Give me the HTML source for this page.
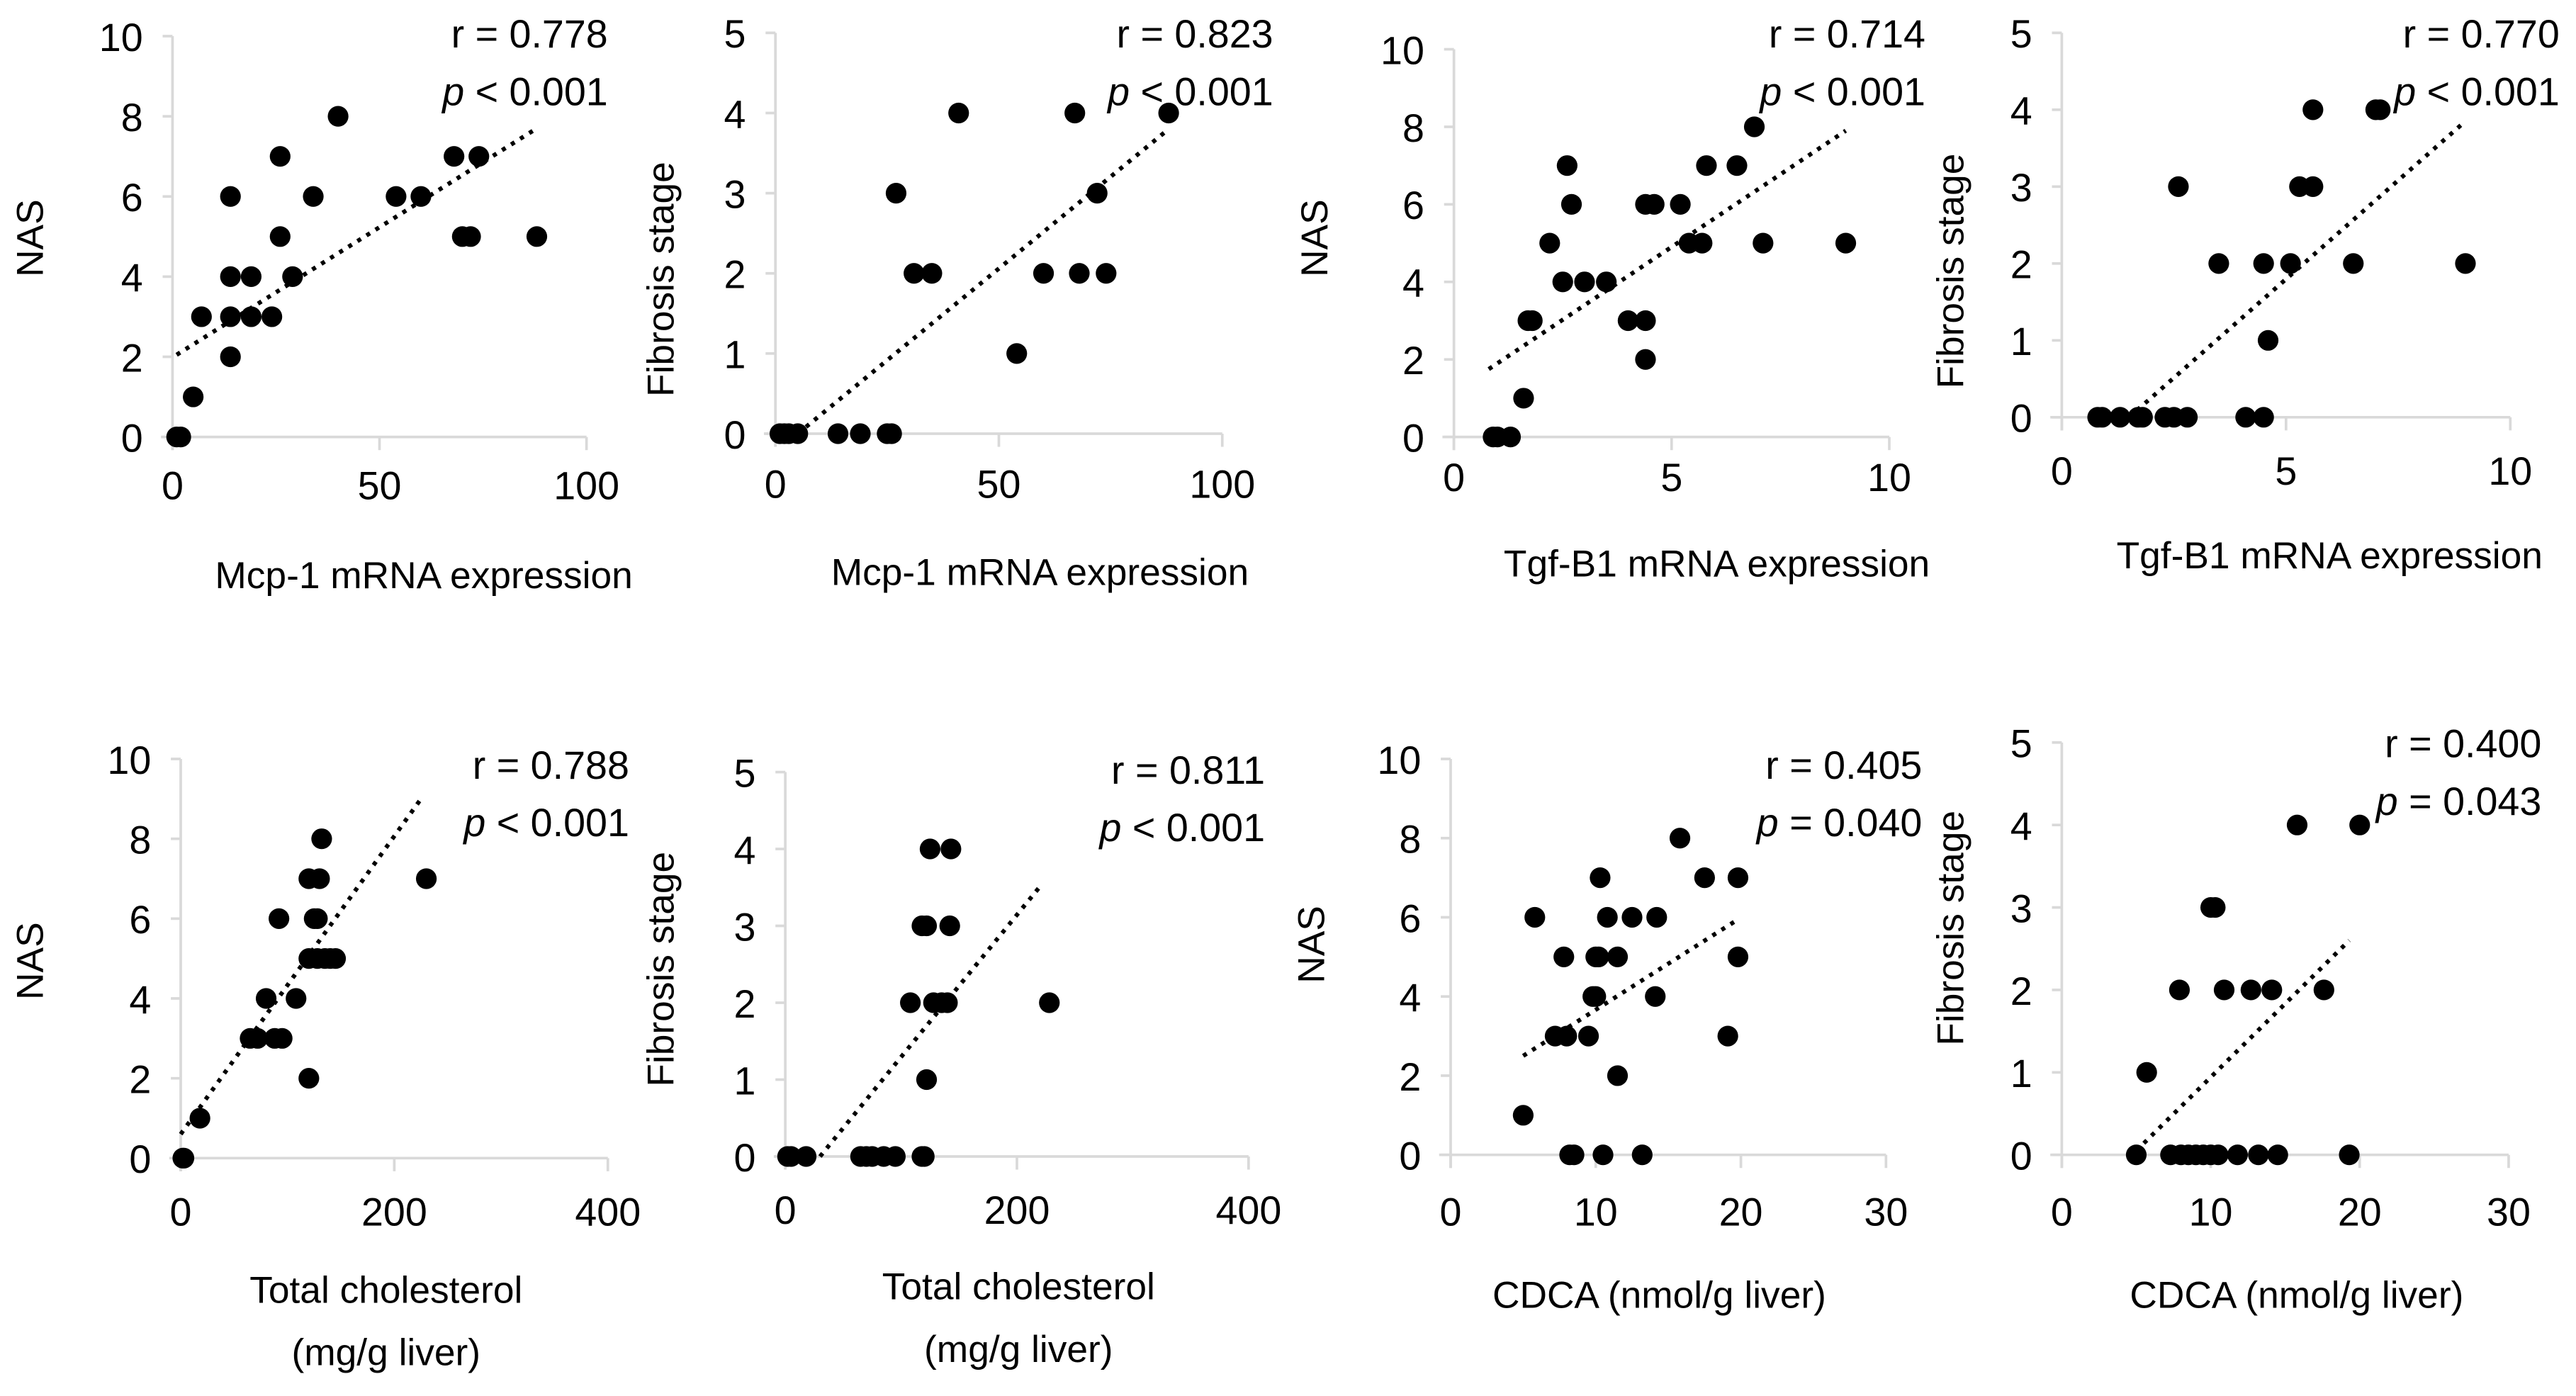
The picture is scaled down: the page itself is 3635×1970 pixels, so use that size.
<!DOCTYPE html>
<html><head><meta charset="utf-8"><style>
html,body{margin:0;padding:0;background:#fff;}
svg{display:block;}
text{font-family:"Liberation Sans",sans-serif;fill:#000;}
</style></head><body>
<svg id="fig" width="3635" height="1970" viewBox="0 0 1568 849.8" preserveAspectRatio="none" xmlns="http://www.w3.org/2000/svg"></svg>
<script>
// ---- data ----
const p1x=[1,2,5,7,14,14,14,14,19,19,24,26,26,29,34,40,54,60,68,70,72,74,88];
const p1y=[0,0,1,3,2,3,4,6,3,4,3,5,7,4,6,8,6,6,7,5,5,7,5];
const p1trend=[[1,2.05],[88,7.7]];
const p2x=[1,2,3,5,14,19,25,26,27,31,35,41,54,60,67,68,72,74,88];
const p2y=[0,0,0,0,0,0,0,0,3,2,2,4,1,2,4,2,3,2,4];
const p2trend=[[5,0],[88,3.8]];
const p3x=[0.9,1.0,1.3,1.6,1.7,1.8,2.2,2.5,2.6,2.7,3.0,3.5,4.0,4.4,4.4,4.4,4.6,5.2,5.4,5.7,5.8,6.5,6.9,7.1,9.0];
const p3y=[0,0,0,1,3,3,5,4,7,6,4,4,3,3,2,6,6,6,5,5,7,7,8,5,5];
const p3trend=[[0.8,1.75],[9.0,7.9]];
const p4x=[0.8,0.9,1.3,1.7,1.8,2.3,2.5,2.8,2.6,3.5,4.1,4.5,4.5,4.6,5.1,5.3,5.6,5.6,6.5,7.0,7.1,9.0];
const p4y=[0,0,0,0,0,0,0,0,3,2,0,0,2,1,2,3,3,4,2,4,4,2];
const p4trend=[[1.5,0],[8.9,3.8]];
const p5x=[2,3,18,65,72,80,88,95,92,108,120,120,120,125,128,130,128,132,135,140,145,230];
const p5y=[0,0,1,3,3,4,3,3,6,4,2,5,7,6,6,7,5,8,5,5,5,7];
const p5trend=[[0,0.6],[225,9]];
const p6x=[2,5,18,65,70,75,85,95,118,120,122,108,118,122,125,128,135,140,142,143,228];
const p6y=[0,0,0,0,0,0,0,0,0,0,1,2,3,3,4,2,2,2,3,4,2];
const p6trend=[[30,0],[222,3.55]];
const p7x=[5,5.8,7.2,7.8,8,8.2,8.5,9.5,9.8,10,10,10.2,10.3,10.5,10.8,11.5,11.5,12.5,13.2,14.1,14.2,15.8,17.5,19.1,19.8,19.8];
const p7y=[1,6,3,5,3,0,0,3,4,4,5,5,7,0,6,2,5,6,0,4,6,8,7,3,7,5];
const p7trend=[[5,2.5],[19.6,5.9]];
const p8x=[5,5.7,7.3,7.9,8,8.5,9,9.5,10,10.5,10,10.3,10.9,11.8,12.7,13.2,14.1,14.5,15.8,17.6,19.3,20];
const p8y=[0,1,0,2,0,0,0,0,0,0,3,3,2,0,2,0,2,0,4,2,0,4];
const p8trend=[[5,0.05],[19.3,2.6]];
const xTicks1=[0,50,100], xTicks3=[0,5,10], xTicks5=[0,200,400], xTicks7=[0,10,20,30];
const yTicksNAS=[0,2,4,6,8,10], yTicksFib=[0,1,2,3,4,5];
const rLabels=["r = 0.778","r = 0.823","r = 0.714","r = 0.770","r = 0.788","r = 0.811","r = 0.405","r = 0.400"];
const pOps=["< 0.001","< 0.001","< 0.001","< 0.001","< 0.001","< 0.001","= 0.040","= 0.043"];

// ---- layout ----
const panels=[
 {xs:p1x,ys:p1y,tr:p1trend,ax:105,ay0:266,ay1:22,ax1:357,xmax:100,ymax:10,xt:xTicks1,yt:yTicksNAS,yl:"NAS",ylx:18,yly:145,xl:["Mcp-1 mRNA expression"],xlx:258,xly:350,rx:370,ry:20,tly:303},
 {xs:p2x,ys:p2y,tr:p2trend,ax:472,ay0:264,ay1:20,ax1:744,xmax:100,ymax:5,xt:xTicks1,yt:yTicksFib,yl:"Fibrosis stage",ylx:402,yly:170,xl:["Mcp-1 mRNA expression"],xlx:633,xly:348,rx:775,ry:20,tly:302},
 {xs:p3x,ys:p3y,tr:p3trend,ax:885,ay0:266,ay1:30,ax1:1150,xmax:10,ymax:10,xt:xTicks3,yt:yTicksNAS,yl:"NAS",ylx:800,yly:145,xl:["Tgf-B1 mRNA expression"],xlx:1045,xly:343,rx:1172,ry:20,tly:298},
 {xs:p4x,ys:p4y,tr:p4trend,ax:1255,ay0:254,ay1:20,ax1:1528,xmax:10,ymax:5,xt:xTicks3,yt:yTicksFib,yl:"Fibrosis stage",ylx:1187,yly:165,xl:["Tgf-B1 mRNA expression"],xlx:1418,xly:338,rx:1558,ry:20,tly:294},
 {xs:p5x,ys:p5y,tr:p5trend,ax:110,ay0:705,ay1:462,ax1:370,xmax:400,ymax:10,xt:xTicks5,yt:yTicksNAS,yl:"NAS",ylx:18,yly:585,xl:["Total cholesterol","(mg/g liver)"],xlx:235,xly:785,rx:383,ry:465,tly:745},
 {xs:p6x,ys:p6y,tr:p6trend,ax:478,ay0:704,ay1:470,ax1:760,xmax:400,ymax:5,xt:xTicks5,yt:yTicksFib,yl:"Fibrosis stage",ylx:402,yly:590,xl:["Total cholesterol","(mg/g liver)"],xlx:620,xly:783,rx:770,ry:468,tly:744},
 {xs:p7x,ys:p7y,tr:p7trend,ax:883,ay0:703,ay1:462,ax1:1148,xmax:30,ymax:10,xt:xTicks7,yt:yTicksNAS,yl:"NAS",ylx:798,yly:575,xl:["CDCA (nmol/g liver)"],xlx:1010,xly:788,rx:1170,ry:465,tly:745},
 {xs:p8x,ys:p8y,tr:p8trend,ax:1255,ay0:703,ay1:452,ax1:1527,xmax:30,ymax:5,xt:xTicks7,yt:yTicksFib,yl:"Fibrosis stage",ylx:1187,yly:565,xl:["CDCA (nmol/g liver)"],xlx:1398,xly:788,rx:1547,ry:452,tly:745}
];
const NS="http://www.w3.org/2000/svg";
const svg=document.getElementById('fig');
function mk(tag,attrs,parent){const e=document.createElementNS(NS,tag);for(const k in attrs)e.setAttribute(k,attrs[k]);parent.appendChild(e);return e;}
panels.forEach((P,i)=>{
  const g=mk('g',{},svg);
  
  
  const sx=v=>P.ax+(v/P.xmax)*(P.ax1-P.ax);
  const sy=v=>P.ay0-(v/P.ymax)*(P.ay0-P.ay1);
  const axc='#d9d9d9';
  const ya=mk('line',{x1:P.ax,y1:P.ay1,x2:P.ax,y2:P.ay0+8,stroke:axc,'stroke-width':1.6},g);
  
  
  const xa=mk('line',{x1:P.ax-7,y1:P.ay0,x2:P.ax1,y2:P.ay0,stroke:axc,'stroke-width':1.6},g);
  
  
  P.yt.forEach(v=>{
    mk('line',{x1:P.ax-6,y1:sy(v),x2:P.ax,y2:sy(v),stroke:axc,'stroke-width':1.6},g);
    const t=mk('text',{x:P.ax-18,y:sy(v)+9,'text-anchor':'end','font-size':24},g);
    t.textContent=v;
    
    
  });
  P.xt.forEach(v=>{
    mk('line',{x1:sx(v),y1:P.ay0,x2:sx(v),y2:P.ay0+8,stroke:axc,'stroke-width':1.6},g);
    const t=mk('text',{x:sx(v),y:P.tly+1,'text-anchor':'middle','font-size':24},g);
    t.textContent=v;
    
    
  });
  const tl=mk('line',{x1:sx(P.tr[0][0]),y1:sy(P.tr[0][1]),x2:sx(P.tr[1][0]),y2:sy(P.tr[1][1]),stroke:'#000','stroke-width':2.6,'stroke-dasharray':'2.5 4'},g);
  
  
  P.xs.forEach((x,k)=>{
    const c=mk('circle',{cx:sx(x),cy:sy(P.ys[k]),r:6.3,fill:'#000'},g);
    
    
  });
  const yl=mk('text',{x:0,y:0,'text-anchor':'middle','font-size':23,transform:'translate('+(P.ylx+8)+','+P.yly+') rotate(-90)'},g);
  yl.textContent=P.yl;
  
  
  P.xl.forEach((s,k)=>{
    const t=mk('text',{x:P.xlx,y:P.xly+8+k*38,'text-anchor':'middle','font-size':23},g);
    t.textContent=s;
    
    
  });
  const r=mk('text',{x:P.rx,y:P.ry+9,'text-anchor':'end','font-size':24},g);
  r.textContent=rLabels[i];
  
  
  const p=mk('text',{x:P.rx,y:P.ry+44,'text-anchor':'end','font-size':24},g);
  
  
  const it=mk('tspan',{'font-style':'italic'},p);it.textContent='p';
  const rest=mk('tspan',{},p);rest.textContent=' '+pOps[i];
});
</script>
</body></html>
